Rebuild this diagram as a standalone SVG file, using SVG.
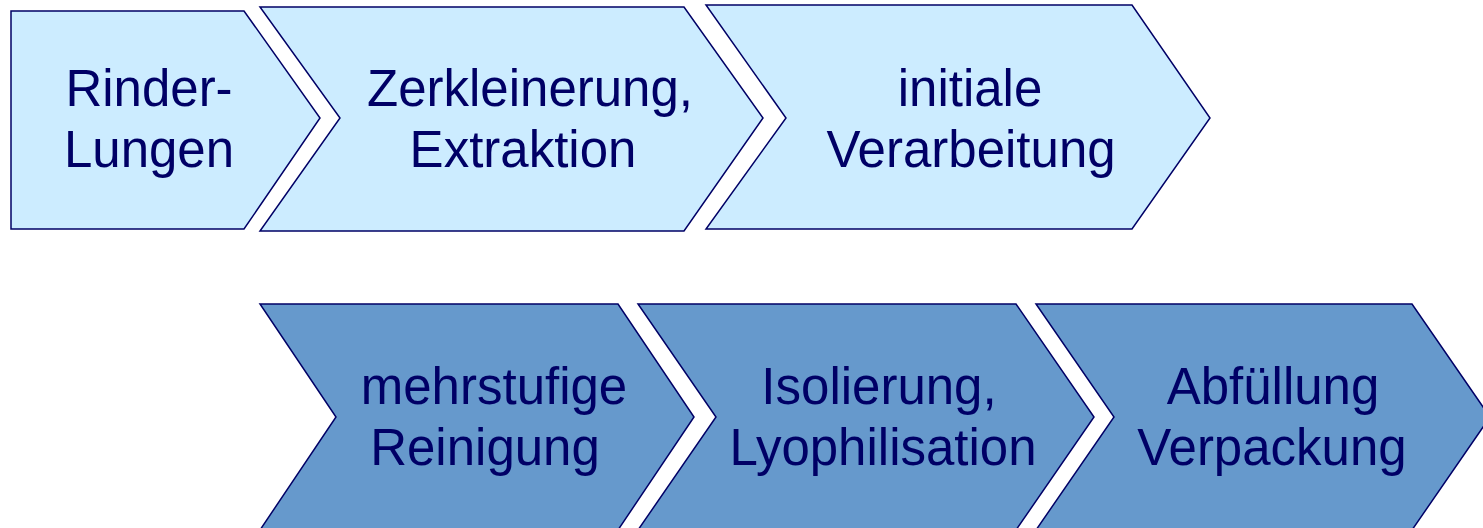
<svg xmlns="http://www.w3.org/2000/svg" width="1483" height="528" viewBox="0 0 1483 528">
<style>
.light{fill:#CCECFF;stroke:#000066;stroke-width:1.5;stroke-linejoin:miter}
.dark{fill:#6699CC;stroke:#000066;stroke-width:1.5;stroke-linejoin:miter}
text{font-family:"Liberation Sans",Arial,sans-serif;font-size:51px;fill:#000066;text-anchor:middle}
</style>
<rect width="1483" height="528" fill="#FFFFFF"/>
<g id="node1">
<polygon class="light" points="11,11 244,11 320,118 244,229 11,229"/>
<text x="149" y="106">Rinder-</text>
<text x="149" y="167">Lungen</text>
</g>
<g id="node2">
<polygon class="light" points="260,7 684,7 763,118 684,231 260,231 340,118"/>
<text x="530" y="106">Zerkleinerung,</text>
<text x="523" y="167">Extraktion</text>
</g>
<g id="node3">
<polygon class="light" points="706,5 1132,5 1210,118 1132,229 706,229 786,118"/>
<text x="970" y="106">initiale</text>
<text x="971" y="167">Verarbeitung</text>
</g>
<g id="node4">
<polygon class="dark" points="260,304 618,304 694,417 618,530 260,530 336,417"/>
<text x="494" y="404">mehrstufige</text>
<text x="485" y="465">Reinigung</text>
</g>
<g id="node5">
<polygon class="dark" points="638,304 1016,304 1094,417 1016,530 638,530 716,417"/>
<text x="879" y="404">Isolierung,</text>
<text x="883" y="465">Lyophilisation</text>
</g>
<g id="node6">
<polygon class="dark" points="1036,304 1412,304 1490,417 1412,530 1036,530 1114,417"/>
<text x="1273" y="404">Abfüllung</text>
<text x="1272" y="465">Verpackung</text>
</g>
<g id="connectors"></g>
</svg>
